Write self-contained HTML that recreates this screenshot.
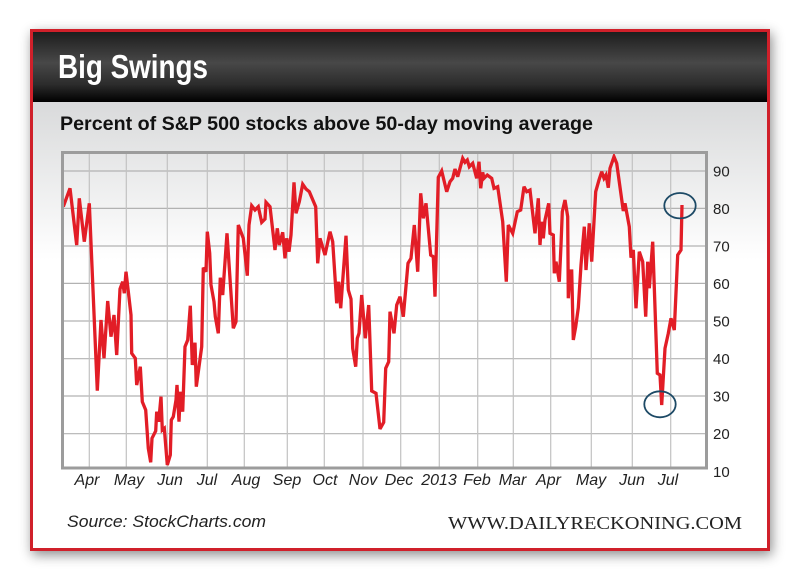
<!DOCTYPE html>
<html>
<head>
<meta charset="utf-8">
<style>
html,body{margin:0;padding:0;background:#fff;}
svg{display:block;}
</style>
</head>
<body>
<svg width="800" height="580" viewBox="0 0 800 580" xmlns="http://www.w3.org/2000/svg">
<defs>
<filter id="sh" x="-10%" y="-10%" width="120%" height="125%">
<feDropShadow dx="2" dy="4" stdDeviation="6" flood-color="#000" flood-opacity="0.45"/>
</filter>
<linearGradient id="hdr" x1="0" y1="0" x2="0" y2="1">
<stop offset="0" stop-color="#1c1c1c"/>
<stop offset="0.45" stop-color="#484848"/>
<stop offset="0.75" stop-color="#2c2c2c"/>
<stop offset="1" stop-color="#000"/>
</linearGradient>
<linearGradient id="pnl" x1="0" y1="102" x2="0" y2="260" gradientUnits="userSpaceOnUse">
<stop offset="0" stop-color="#d9dadb"/>
<stop offset="1" stop-color="#ffffff"/>
</linearGradient>
</defs>

<!-- frame with shadow -->
<rect x="30" y="29" width="740" height="522" fill="#fff" filter="url(#sh)"/>
<rect x="33" y="102" width="734" height="446" fill="url(#pnl)"/>
<rect x="33" y="31" width="734" height="71" fill="url(#hdr)"/>
<rect x="31.5" y="30.5" width="737" height="519" fill="none" stroke="#d0202a" stroke-width="3"/>

<!-- titles -->
<text x="58" y="78" font-family="Liberation Sans, sans-serif" font-weight="bold" font-size="33" fill="#fff" textLength="150" lengthAdjust="spacingAndGlyphs">Big Swings</text>
<text x="60" y="130" font-family="Liberation Sans, sans-serif" font-weight="bold" font-size="19.5" fill="#111" textLength="533" lengthAdjust="spacingAndGlyphs">Percent of S&amp;P 500 stocks above 50-day moving average</text>

<!-- grid -->
<g stroke="#b2b2b2" stroke-width="1.2">
<line x1="62" y1="171" x2="706" y2="171"/>
<line x1="62" y1="208.4" x2="706" y2="208.4"/>
<line x1="62" y1="246" x2="706" y2="246"/>
<line x1="62" y1="283.4" x2="706" y2="283.4"/>
<line x1="62" y1="321" x2="706" y2="321"/>
<line x1="62" y1="358.7" x2="706" y2="358.7"/>
<line x1="62" y1="396" x2="706" y2="396"/>
<line x1="62" y1="433.7" x2="706" y2="433.7"/>
</g>
<g stroke="#c2c2c2" stroke-width="1.2">
<line x1="89.3" y1="152" x2="89.3" y2="468"/>
<line x1="126.3" y1="152" x2="126.3" y2="468"/>
<line x1="167.3" y1="152" x2="167.3" y2="468"/>
<line x1="207.3" y1="152" x2="207.3" y2="468"/>
<line x1="244.3" y1="152" x2="244.3" y2="468"/>
<line x1="287.3" y1="152" x2="287.3" y2="468"/>
<line x1="324.3" y1="152" x2="324.3" y2="468"/>
<line x1="363" y1="152" x2="363" y2="468"/>
<line x1="400.7" y1="152" x2="400.7" y2="468"/>
<line x1="439.3" y1="152" x2="439.3" y2="468"/>
<line x1="477.7" y1="152" x2="477.7" y2="468"/>
<line x1="513.3" y1="152" x2="513.3" y2="468"/>
<line x1="550.7" y1="152" x2="550.7" y2="468"/>
<line x1="591.3" y1="152" x2="591.3" y2="468"/>
<line x1="632.3" y1="152" x2="632.3" y2="468"/>
<line x1="670.7" y1="152" x2="670.7" y2="468"/>
</g>

<!-- series -->
<polyline fill="none" stroke="#e21d26" stroke-width="3.3" stroke-linejoin="miter" stroke-miterlimit="3" points="63.3,206.7 70,188.3 76.7,245 79.3,198.3 84.3,241.7 89.3,203.3 97.3,390.7 101,320 104,358.3 107.7,301 111,336.7 114,315 116.7,355 120,289 122.7,281.7 124.3,293.3 126,271.7 131,315 131.7,353.3 135.3,358.3 136.7,385 140.3,366.7 142.3,401.7 145.7,410 148.3,448.3 150.7,462.3 152,438.3 155.7,431 156.7,411.7 158.7,421.7 161,396.7 162.3,430 164.3,428.3 167.3,465 170.3,455 171.3,420 173.3,416.7 176,400 177,385 179,421.7 180.3,391.7 182.7,411.7 185,346.7 187.7,340 190.3,305.7 192.3,365 195,342.7 196.3,386.7 201.7,346.7 203.3,267.7 206,271.7 207.3,231.7 209.7,253.3 211,285 214,301.7 215.3,316.7 218.3,333.3 220.3,277.7 222.7,295 227,233.3 233.3,328.3 236,321.7 238.3,225 243.3,238.3 247.3,275.7 249,225 251.7,205.7 255,210 258.3,206.7 261.7,222.3 265,219 266,202.3 270,206.7 275,250 277.3,228.3 279.3,245 282.7,232.3 285,258.3 286.7,238.3 289,251.7 291,235 294,182.3 296,213.3 299.3,201.7 302.7,184.3 306,189 309.3,191.7 315.7,206.7 317.7,263.3 320,238.3 325,255 330,231.7 332.7,241.7 336.7,303.3 338.7,281.7 340.7,308.3 346,235.7 348.3,290 351,299 352.7,348.3 355.7,366.7 357.3,338.3 359,333.3 361.7,295 365.3,338.3 368.7,305 371.7,391 376,393.3 380,429 383.7,422.3 385.7,368.3 388.7,361.7 390,311.7 394,333.3 396.7,305 400,296.7 403.3,316.7 408,263.3 411,258.3 414.3,225 417.7,271.7 420.7,193.3 423.3,218.3 426,203.3 430.7,255 433.3,256.7 435,296.7 438.3,177.3 441.7,171 446.7,191.7 450,181.7 452.7,178.3 455,169 457.7,176.7 462.7,158.3 465,162.3 467.3,160 469.3,166.7 472.7,163.3 476.7,178.3 479,161.7 480.7,188.3 482.7,172.3 484,178.3 487.3,175 491.7,178.3 494,188.3 497.7,186.7 502.7,221.7 506.3,281.7 508.3,225 512.7,233.3 517.3,211.7 520.7,210 524,186.7 526.7,191.7 530,190 535,233.3 538.3,198.3 540,245 541.7,221.7 543.3,238.3 545,220 548.7,203.3 550,233.3 553.3,235 554.3,273.3 556,261.7 559.3,281.7 561,245 562.3,211.7 565,200 567.7,216.7 568.3,298.3 570,271 571.7,271 573.3,340 575.7,326.7 578.3,307.7 581,265 584.3,226.7 586,270 589.3,223.3 591.7,261.7 595.7,191.7 599,180 601.7,171.7 604,178.3 606,175 608.3,187.7 610,168.3 614,156.7 616.7,163.3 623.3,211 625,203.3 629.3,226.7 631,257.7 633.3,250 636,308.3 639.3,251.7 642.7,261.7 645.7,316.7 647.7,261.7 649.3,288.3 652.7,241.7 657.3,373.3 660,375 661.7,405 665,348.3 668.3,333.3 671,318.3 674.3,330 677.7,255 681,250 682,205"/>

<!-- circles -->
<ellipse cx="680" cy="205.7" rx="15.7" ry="12.7" fill="none" stroke="#1d4a66" stroke-width="1.8"/>
<ellipse cx="660" cy="404.3" rx="15.7" ry="13" fill="none" stroke="#1d4a66" stroke-width="1.8"/>

<!-- plot frame -->
<rect x="62.5" y="152.5" width="644" height="315.5" fill="none" stroke="#9c9c9c" stroke-width="3"/>

<!-- y labels -->
<g font-family="Liberation Sans, sans-serif" font-size="15" fill="#222">
<text x="713" y="176.5">90</text>
<text x="713" y="214">80</text>
<text x="713" y="251.5">70</text>
<text x="713" y="289">60</text>
<text x="713" y="326.5">50</text>
<text x="713" y="364">40</text>
<text x="713" y="401.5">30</text>
<text x="713" y="439">20</text>
<text x="713" y="477">10</text>
</g>

<!-- x labels -->
<g font-family="Liberation Sans, sans-serif" font-style="italic" font-size="16" fill="#222" text-anchor="middle">
<text x="87" y="485">Apr</text>
<text x="129" y="485">May</text>
<text x="170" y="485">Jun</text>
<text x="207" y="485">Jul</text>
<text x="246" y="485">Aug</text>
<text x="287" y="485">Sep</text>
<text x="325" y="485">Oct</text>
<text x="363" y="485">Nov</text>
<text x="399" y="485">Dec</text>
<text x="439" y="485">2013</text>
<text x="477" y="485">Feb</text>
<text x="512.5" y="485">Mar</text>
<text x="548.5" y="485">Apr</text>
<text x="591" y="485">May</text>
<text x="632" y="485">Jun</text>
<text x="668" y="485">Jul</text>
</g>

<!-- footer -->
<text x="67" y="527" font-family="Liberation Sans, sans-serif" font-style="italic" font-size="17" fill="#222" textLength="199" lengthAdjust="spacingAndGlyphs">Source: StockCharts.com</text>
<text x="448" y="529" font-family="Liberation Serif, serif" font-size="18" fill="#222" textLength="294" lengthAdjust="spacingAndGlyphs">WWW.DAILYRECKONING.COM</text>
</svg>
</body>
</html>
